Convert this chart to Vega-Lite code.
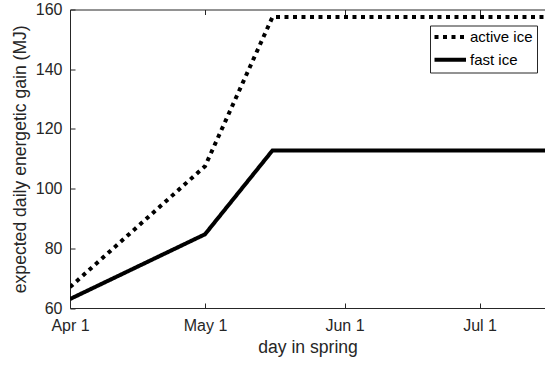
{
  "$schema": "https://vega.github.io/schema/vega-lite/v6.json",
  "width": 475,
  "height": 298.5,
  "autosize": {"type": "none"},
  "padding": {"left": 70, "top": 9.5, "right": 0, "bottom": 57},
  "background": "white",
  "config": {
    "view": {"stroke": null},
    "font": "Liberation Sans",
    "axis": {
      "domainColor": "#262626", "tickColor": "#262626", "labelColor": "#262626", "titleColor": "#262626",
      "labelFont": "Liberation Sans", "titleFont": "Liberation Sans",
      "labelFontSize": 16, "titleFontSize": 17.6, "titleFontWeight": "normal",
      "grid": false, "tickSize": -5, "domainWidth": 1, "tickWidth": 1
    }
  },
  "data": {
    "values": [
      {"series": "active ice", "date": "2015-04-01", "value": 67},
      {"series": "active ice", "date": "2015-05-01", "value": 107.5},
      {"series": "active ice", "date": "2015-05-16", "value": 157.5},
      {"series": "active ice", "date": "2015-07-20", "value": 157.5},
      {"series": "fast ice", "date": "2015-04-01", "value": 63},
      {"series": "fast ice", "date": "2015-05-01", "value": 84.7},
      {"series": "fast ice", "date": "2015-05-16", "value": 112.8},
      {"series": "fast ice", "date": "2015-07-20", "value": 112.8}
    ]
  },
  "layer": [
    {
      "mark": {"type": "line", "clip": true, "strokeWidth": 4, "color": "black", "strokeCap": "butt", "strokeJoin": "miter"},
      "encoding": {
        "x": {
          "field": "date", "type": "temporal",
          "scale": {"type": "utc", "domain": [{"year": 2015, "month": 4, "date": 1, "utc": true}, {"year": 2015, "month": 7, "date": 15, "hours": 13, "utc": true}]},
          "axis": {"orient": "bottom", "title": "day in spring", "format": "%b %-d", "tickCount": {"interval": "month", "step": 1}, "labelPadding": 14, "labelFlush": false, "titlePadding": 5}
        },
        "y": {
          "field": "value", "type": "quantitative",
          "scale": {"domain": [60, 160], "nice": false, "zero": false},
          "axis": {"values": [60, 80, 100, 120, 140, 160], "title": "expected daily energetic gain (MJ)", "labelPadding": 13, "titlePadding": 6}
        },
        "strokeDash": {
          "field": "series", "type": "nominal",
          "scale": {"domain": ["active ice", "fast ice"], "range": [[4, 4.5], [1, 0]]},
          "legend": {
            "orient": "none", "legendX": 360, "legendY": 16, "title": null,
            "symbolType": "M-1.4,0H4.9", "symbolSize": 100, "symbolStrokeWidth": 4,
            "symbolStrokeColor": "black", "symbolFillColor": "transparent",
            "labelFontSize": 15, "labelFont": "Liberation Sans", "labelColor": "black",
            "labelOffset": 21, "padding": 4, "rowPadding": 5.7,
            "strokeColor": "#262626", "fillColor": "white", "labelLimit": 200
          }
        }
      }
    },
    {
      "mark": {"type": "point", "opacity": 0},
      "encoding": {
        "x": {
          "field": "date", "type": "temporal",
          "axis": {"orient": "top", "title": null, "labels": false, "tickCount": {"interval": "month", "step": 1}}
        }
      }
    }
  ]
}
